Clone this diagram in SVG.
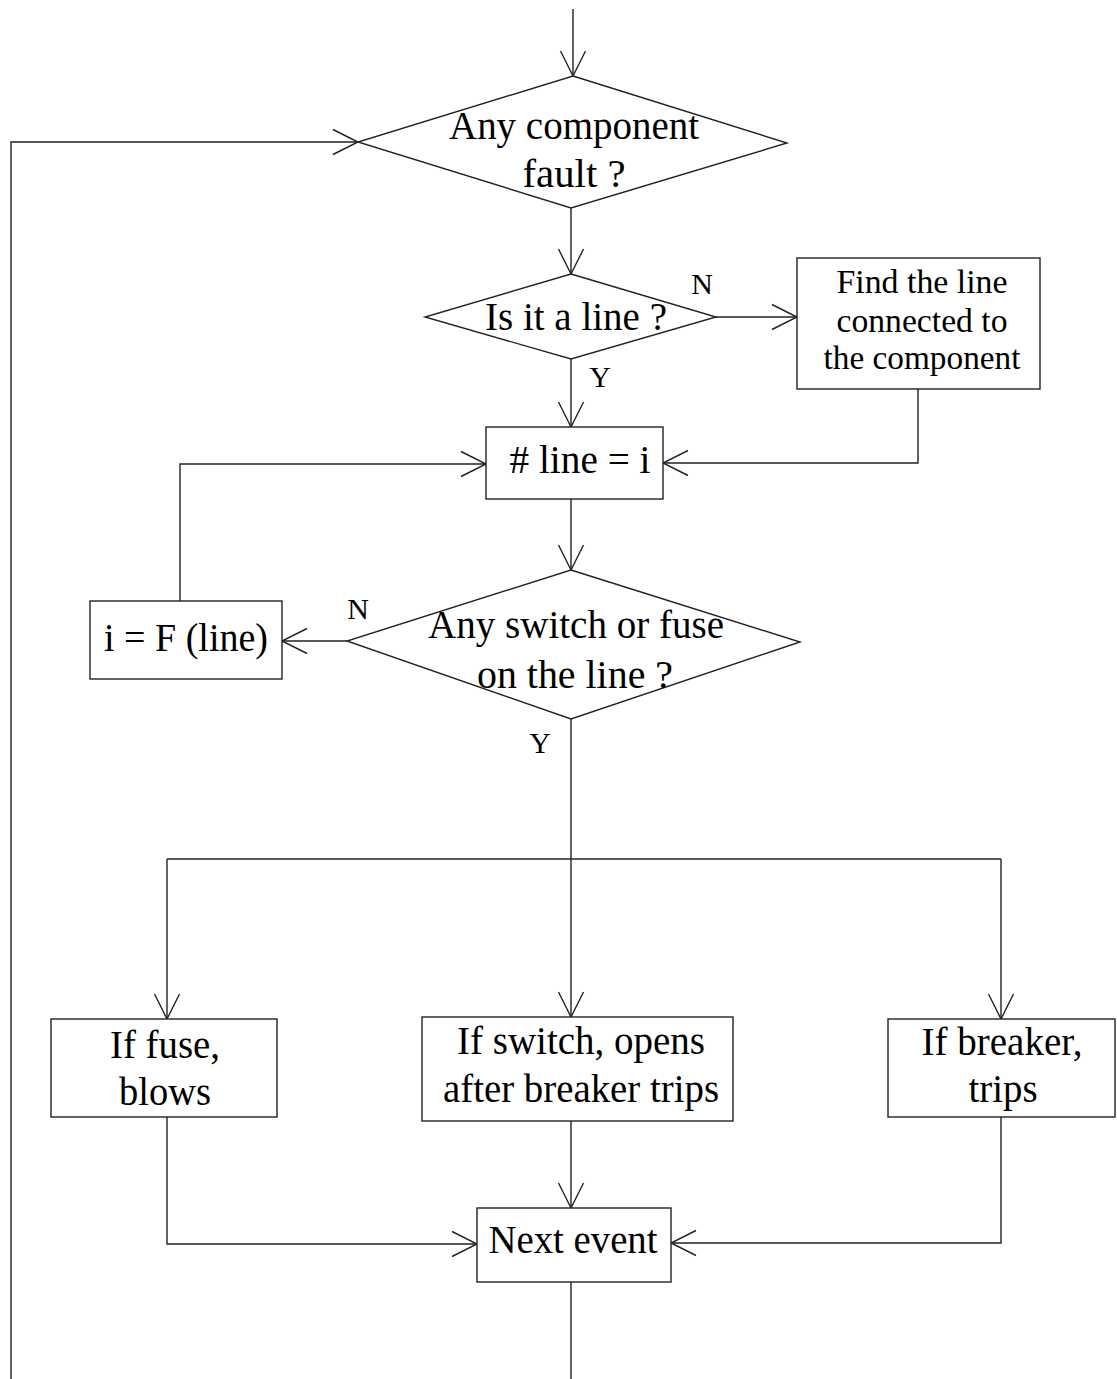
<svg xmlns="http://www.w3.org/2000/svg" width="1117" height="1379" viewBox="0 0 1117 1379">
<style>
.s{fill:#fff;stroke:#222;stroke-width:1.4}
.c{fill:none;stroke:#222;stroke-width:1.4}
text{font-family:"Liberation Serif","Times New Roman",serif;fill:#000;text-anchor:middle}
.t{font-size:39px}
.m{font-size:33px}
.l{font-size:30px}
</style>
<defs>
<marker id="arr" viewBox="-27 -14 29 28" refX="0" refY="0" markerWidth="29" markerHeight="28" markerUnits="userSpaceOnUse" orient="auto">
<path d="M-25,-12.5 L0,0 L-25,12.5" fill="none" stroke="#222" stroke-width="1.4"/>
</marker>
</defs>
<rect width="1117" height="1379" fill="#fff"/>
<g id="connectors" class="c">
<path d="M573,9 V76" marker-end="url(#arr)"/>
<path d="M11,1379 V142 H358" marker-end="url(#arr)"/>
<path d="M571,208 V274" marker-end="url(#arr)"/>
<path d="M716,317 H797" marker-end="url(#arr)"/>
<path d="M918,389 V463 H663" marker-end="url(#arr)"/>
<path d="M571,359 V427" marker-end="url(#arr)"/>
<path d="M180,601 V464 H486" marker-end="url(#arr)"/>
<path d="M571,499 V570" marker-end="url(#arr)"/>
<path d="M347,641 H282" marker-end="url(#arr)"/>
<path d="M571,719 V1017" marker-end="url(#arr)"/>
<path d="M167,859 H1001"/>
<path d="M167,859 V1019" marker-end="url(#arr)"/>
<path d="M1001,859 V1019" marker-end="url(#arr)"/>
<path d="M167,1117 V1244 H477" marker-end="url(#arr)"/>
<path d="M571,1121 V1208" marker-end="url(#arr)"/>
<path d="M1001,1117 V1243 H671" marker-end="url(#arr)"/>
<path d="M571,1282 V1379"/>
</g>
<g id="fault">
<polygon class="s" points="573,76 787,143 571,208 358,142"/>
<text class="t" x="574" y="139" textLength="250" lengthAdjust="spacingAndGlyphs">Any component</text>
<text class="t" x="574" y="187" textLength="103" lengthAdjust="spacingAndGlyphs">fault ?</text>
</g>
<g id="isline">
<polygon class="s" points="571,274 716,317 571,359 425,317"/>
<text class="t" x="576" y="330" textLength="182" lengthAdjust="spacingAndGlyphs">Is it a line ?</text>
</g>
<g id="labels">
<text class="l" x="702" y="294">N</text>
<text class="l" x="600" y="387">Y</text>
<text class="l" x="358" y="619">N</text>
<text class="l" x="540" y="753">Y</text>
</g>
<g id="findline">
<rect class="s" x="797" y="258" width="243" height="131"/>
<text class="m" x="922" y="293" textLength="171" lengthAdjust="spacingAndGlyphs">Find the line</text>
<text class="m" x="922" y="332" textLength="171" lengthAdjust="spacingAndGlyphs">connected to</text>
<text class="m" x="922" y="369" textLength="197" lengthAdjust="spacingAndGlyphs">the component</text>
</g>
<g id="lineeq">
<rect class="s" x="486" y="427" width="177" height="72"/>
<text class="t" x="580" y="473" textLength="141" lengthAdjust="spacingAndGlyphs"># line = i</text>
</g>
<g id="anyswitch">
<polygon class="s" points="571,570 800,642 571,719 347,641"/>
<text class="t" x="576" y="638" textLength="296" lengthAdjust="spacingAndGlyphs">Any switch or fuse</text>
<text class="t" x="575" y="688" textLength="196" lengthAdjust="spacingAndGlyphs">on the line ?</text>
</g>
<g id="ifunc">
<rect class="s" x="90" y="601" width="192" height="78"/>
<text class="t" x="186" y="651" textLength="164" lengthAdjust="spacingAndGlyphs">i = F (line)</text>
</g>
<g id="fuse">
<rect class="s" x="51" y="1019" width="226" height="98"/>
<text class="t" x="165" y="1058" textLength="110" lengthAdjust="spacingAndGlyphs">If fuse,</text>
<text class="t" x="165" y="1105" textLength="92" lengthAdjust="spacingAndGlyphs">blows</text>
</g>
<g id="switch">
<rect class="s" x="422" y="1017" width="311" height="104"/>
<text class="t" x="581" y="1054" textLength="248" lengthAdjust="spacingAndGlyphs">If switch, opens</text>
<text class="t" x="581" y="1102" textLength="276" lengthAdjust="spacingAndGlyphs">after breaker trips</text>
</g>
<g id="breaker">
<rect class="s" x="888" y="1019" width="227" height="98"/>
<text class="t" x="1002" y="1055" textLength="161" lengthAdjust="spacingAndGlyphs">If breaker,</text>
<text class="t" x="1003" y="1102" textLength="69" lengthAdjust="spacingAndGlyphs">trips</text>
</g>
<g id="next">
<rect class="s" x="477" y="1208" width="194" height="74"/>
<text class="t" x="573" y="1253" textLength="169" lengthAdjust="spacingAndGlyphs">Next event</text>
</g>
</svg>
